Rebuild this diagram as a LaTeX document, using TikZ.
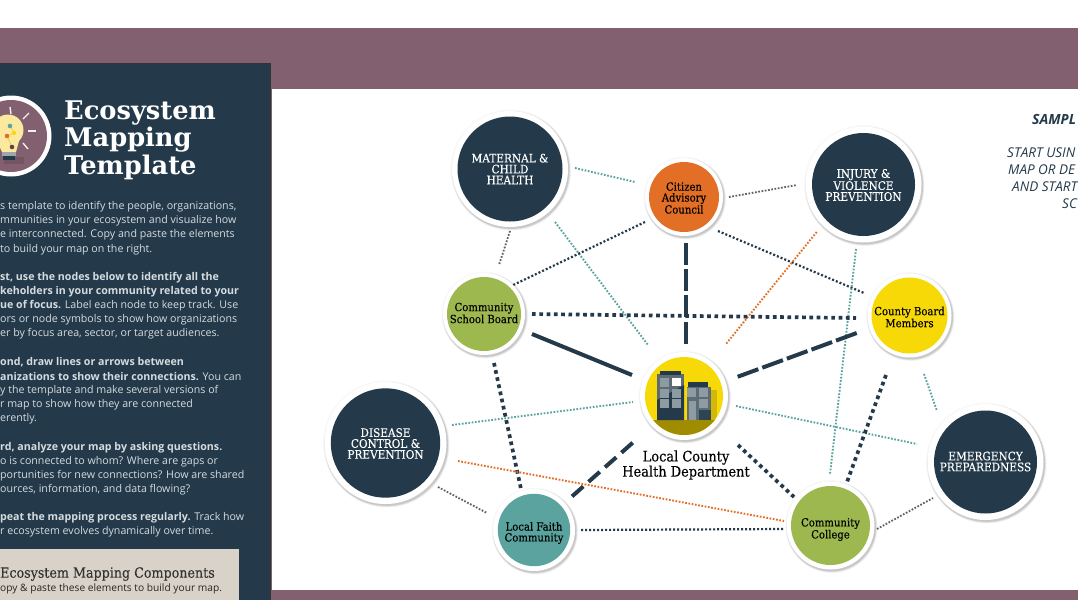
\documentclass[tikz,border=0pt]{standalone}
\usepackage{fontspec}
\setmainfont{Open Sans}
\newfontfamily\slab{DejaVu Serif}
\newfontfamily\slabc[FakeBold=0.15]{DejaVu Serif Condensed}
\definecolor{navy}{HTML}{243A4A}
\definecolor{plum}{HTML}{83606F}
\definecolor{leaf}{HTML}{9DB84F}
\definecolor{tang}{HTML}{E26F25}
\definecolor{sea}{HTML}{5AA39E}
\definecolor{sun}{HTML}{F7D908}
\definecolor{sand}{HTML}{D9D2C8}
\definecolor{bodytx}{HTML}{D5DBDF}
\definecolor{olive}{HTML}{A08C00}
\definecolor{ashy}{HTML}{5D6B74}
\definecolor{grayline}{HTML}{665C66}
\definecolor{winlt}{HTML}{8D9BA3}
\definecolor{bulb}{HTML}{FBE9A0}
\tikzset{
  bline/.style={anchor=west,inner sep=0pt,yshift=-1.5pt,text=bodytx,font=\fontsize{10.65}{13}\selectfont},
  titletx/.style={anchor=west,inner sep=0pt,text=white,font=\slab\bfseries\fontsize{25.7}{27}\selectfont},
  lab/.style={align=center,inner sep=0pt,font=\slabc\fontsize{11.2}{10.9}\selectfont},
  wlab/.style={align=center,inner sep=0pt,font=\slabc\fontsize{11.7}{10.9}\selectfont},
  samp/.style={anchor=west,inner sep=0pt,text=navy,font=\itshape\fontsize{13.5}{15}\selectfont},
  tealdot/.style={draw=sea,line width=1.9pt,dash pattern=on 1.7pt off 1.6pt},
  greydot/.style={draw=grayline,line width=1.8pt,dash pattern=on 1.7pt off 1.6pt},
  orgdot/.style={draw=tang,line width=1.9pt,dash pattern=on 1.7pt off 1.6pt},
  navdot/.style={draw=navy,line width=2.2pt,dash pattern=on 2pt off 2pt},
  fatdot/.style={draw=navy,line width=3.7pt,dash pattern=on 3.7pt off 3.6pt},
  fatdash/.style={draw=navy,line width=4pt,dash pattern=on 22pt off 4.2pt},
  shortdash/.style={draw=navy,line width=4pt,dash pattern=on 15pt off 7pt},
  fatline/.style={draw=navy,line width=4pt},
  disc/.style={circle,inner sep=0pt},
}
% name, x, y, disc radius, ring radius, disc colour, label style, label, label offset
\newcommand{\hubnode}[9]{%
  \fill[black,opacity=0.025] (#2,#3) circle (#5+1.5);
  \fill[black,opacity=0.05] (#2+1.2,#3+1.6) circle (#5+1.8);
  \fill[black,opacity=0.07] (#2+1.2,#3+1.6) circle (#5+1);
  \fill[black,opacity=0.09] (#2+1.2,#3+1.6) circle (#5+0.3);
  \node[disc,fill=white,minimum size=#5*2pt] (#1ring) at (#2,#3) {};
  \node[disc,fill=#6,minimum size=#4*2pt] (#1) at (#2,#3) {};
  \node[#7] (#1tx) at (#2,#3+#9) {#8};
}
\begin{document}
\begin{tikzpicture}[x=1pt,y=-1pt]
\useasboundingbox (0,0) rectangle (1078,600);
\clip (0,0) rectangle (1078,600);
\fill[white] (0,0) rectangle (1078,600);
\fill[plum] (0,28) rectangle (1078,600);
\fill[white] (272,89) rectangle (1078,590);
\fill[navy] (0,63) rectangle (270.6,600);
\draw[black!80,line width=0.8pt] (0,63) -- (270.6,63) -- (270.6,600);
% icon
\fill[white] (11,136) circle (40.5);
\fill[plum] (11,136) circle (36);
\fill[black,opacity=0.12] (4,157) rectangle (24,164);
\fill[bulb] (8,130) circle (15.5);
\fill[bulb] (-3,141) -- (19,141) -- (16,152) -- (2,152) -- cycle;
\fill[ashy!60!white] (2,152) rectangle (16,156);
\fill[navy] (3,156) rectangle (15,160);
\foreach \aa/\bb/\cc/\dd in {10/107/11/114, 23/119/29/113, 28/131/36/131, 23/143/28/149}{
  \draw[white!90!plum,line width=1.4pt] (\aa,\bb) -- (\cc,\dd);}
\draw[sun!80!tang,line width=.5pt] (10,126) -- (14,133) -- (7,136) -- (12,147);
\fill[sea] (10,126) circle (2.3);
\fill[sun] (14,133) circle (2.1);
\fill[tang] (7,136) circle (2.3);
\fill[plum!70!black] (12,147) circle (2.3);
% title
\node[titletx] (t1) at (64,113) {Ecosystem};
\node[titletx] (t2) at (64,140) {Mapping};
\node[titletx] (t3) at (64,167) {Template};
% body
\node[bline] (b1) at (0,205) {s template to identify the people, organizations,};
\node[bline] (b2) at (0,219.5) {mmunities in your ecosystem and visualize how};
\node[bline] (b3) at (0,233.5) {e interconnected. Copy and paste the elements};
\node[bline] (b4) at (0,248) {to build your map on the right.};
\node[bline] (b5) at (0,276) {\bfseries st, use the nodes below to identify all the};
\node[bline] (b6) at (0,290) {\bfseries keholders in your community related to your};
\node[bline] (b7) at (0,304) {{\bfseries ue of focus.} Label each node to keep track. Use};
\node[bline] (b8) at (0,318.5) {ors or node symbols to show how organizations};
\node[bline] (b9) at (0,332.5) {er by focus area, sector, or target audiences.};
\node[bline] (b10) at (0,361) {\bfseries ond, draw lines or arrows between};
\node[bline] (b11) at (0,375) {{\bfseries anizations to show their connections.} You can};
\node[bline] (b12) at (0,389) {y the template and make several versions of};
\node[bline] (b13) at (0,403.5) {r map to show how they are connected};
\node[bline] (b14) at (0,417.5) {erently.};
\node[bline] (b15) at (0,446) {\bfseries rd, analyze your map by asking questions.};
\node[bline] (b16) at (0,460) {o is connected to whom? Where are gaps or};
\node[bline] (b17) at (0,474) {portunities for new connections? How are shared};
\node[bline] (b18) at (0,488) {ources, information, and data flowing?};
\node[bline] (b19) at (0,516) {{\bfseries peat the mapping process regularly.} Track how};
\node[bline] (b20) at (0,530.5) {r ecosystem evolves dynamically over time.};
\fill[sand] (0,549) rectangle (239,600);
\node[anchor=west,inner sep=0pt,text=black!80,font=\slabc\fontsize{14.1}{15}\selectfont] (c1) at (0,574) {Ecosystem Mapping Components};
\node[anchor=west,inner sep=0pt,text=black!85,font=\fontsize{10.2}{12}\selectfont] (c2) at (0,589) {opy \& paste these elements to build your map.};
% sample text
\node[samp,font=\bfseries\itshape\fontsize{14}{15}\selectfont] (s1) at (1032,119.5) {SAMPL};
\node[samp] (s2) at (1007,153) {START USIN};
\node[samp] (s3) at (1008,170) {MAP OR DE};
\node[samp] (s4) at (1012,187) {AND START};
\node[samp] (s5) at (1062,204) {SC};
% connector ends
\foreach \nn/\xx/\yy in {
 a1/575/168,a2/635/182, b1x/729/197,b2x/797/185, c1x/510/231,c2x/499/265,
 d1/555/222,d2/648/345, e1/645/222,e2/509/287, f1/718/231,f2/864/293,
 g1/685.7/243,g2/685.7/344, h1/856/249,h2/830/474, i1/816.7/232,i2/726/344,
 j1/532/314,j2/856/318, k1/532/334,k2/632/375, l1/856.7/333,l2/737/377,
 m1/452/425,m2/633/402, n1/736/406,n2/917/444, o1/924/374,o2/937/411,
 p1/494/363,p2/521/489, q1/632.7/442.7,q2/571.7/496.7, r1/738/445,r2/794/497,
 u1/886/375,u2/847/482, v1/458/461,v2/784/521, w1/438/487,w2/487/513,
 y1/581/530,y2/784/529, z1/877/529,z2/933/498}
 {\coordinate (\nn) at (\xx,\yy);}
\draw[tealdot] (a1) -- (a2);
\draw[greydot] (b1x) -- (b2x);
\draw[greydot] (c1x) -- (c2x);
\draw[tealdot] (d1) -- (d2);
\draw[navdot] (e1) -- (e2);
\draw[navdot] (f1) -- (f2);
\draw[fatdash] (g1) -- (g2);
\draw[tealdot] (h1) -- (h2);
\draw[orgdot] (i1) -- (i2);
\draw[fatdot] (j1) -- (j2);
\draw[fatline] (k1) -- (k2);
\draw[fatdash] (l1) -- (l2);
\draw[tealdot] (m1) -- (m2);
\draw[tealdot] (n1) -- (n2);
\draw[tealdot] (o1) -- (o2);
\draw[fatdot] (p1) -- (p2);
\draw[shortdash] (q1) -- (q2);
\draw[fatdot] (r1) -- (r2);
\draw[fatdot] (u1) -- (u2);
\draw[orgdot] (v1) -- (v2);
\draw[greydot] (w1) -- (w2);
\draw[navdot] (y1) -- (y2);
\draw[greydot] (z1) -- (z2);
% hubs
\hubnode{mat}{510}{169}{52.5}{58}{navy}{wlab,text=white}{MATERNAL \&\\CHILD\\HEALTH}{0}
\hubnode{cit}{684}{197}{35}{39}{tang}{lab,text=black}{Citizen\\Advisory\\Council}{1}
\hubnode{inj}{863.5}{184.5}{51.5}{58}{navy}{wlab,text=white}{INJURY \&\\VIOLENCE\\PREVENTION}{0.5}
\hubnode{sch}{484}{314}{37}{41}{leaf}{lab,text=black}{Community\\School Board}{-1}
\hubnode{cty}{909.5}{315.5}{38}{42}{sun}{lab,text=black}{County Board\\Members}{1.5}
\hubnode{dis}{385.5}{443}{54.7}{61}{navy}{wlab,text=white}{DISEASE\\CONTROL \&\\PREVENTION}{0.5}
\hubnode{eme}{985.5}{462}{51.5}{58}{navy}{wlab,text=white}{EMERGENCY\\PREPAREDNESS}{-0.5}
\hubnode{fai}{534}{530}{36.2}{41}{sea}{lab,text=black}{Local Faith\\Community}{3}
\hubnode{col}{830.5}{525.5}{39.5}{44}{leaf}{lab,text=black}{Community\\College}{4}
\hubnode{cen}{684}{396}{39}{44}{sun}{lab}{}{0}
% building
\begin{scope}
\clip (684,396) circle (39);
\fill[olive] (640,420) rectangle (730,440);
\fill[sun!85!black] (711,390) rectangle (717,420);
\end{scope}
\fill[ashy] (657,374) rectangle (684,420);
\fill[navy] (657,400) -- (684,385) -- (684,420) -- (657,420) -- cycle;
\fill[navy] (660,371) rectangle (681,375);
\fill[ashy] (687,387) rectangle (711,420);
\fill[navy] (688,382) rectangle (708,387);
\fill[navy!80!ashy] (699,410) rectangle (711,420);
\fill[winlt] (689,401) rectangle (696,420);
\foreach \wx/\wy in {660/378,660/389,660/399,672/389,672/399,687/388,699/388,699/399}{
  \fill[winlt] (\wx,\wy) rectangle ++(9,8.5);}
\fill[white] (672,378) rectangle ++(9,8);
\node[align=center,inner sep=0pt,font=\slabc\fontsize{14.4}{13}\selectfont] (hd) at (686,465) {Local County\\Health Department};
\end{tikzpicture}
\end{document}
